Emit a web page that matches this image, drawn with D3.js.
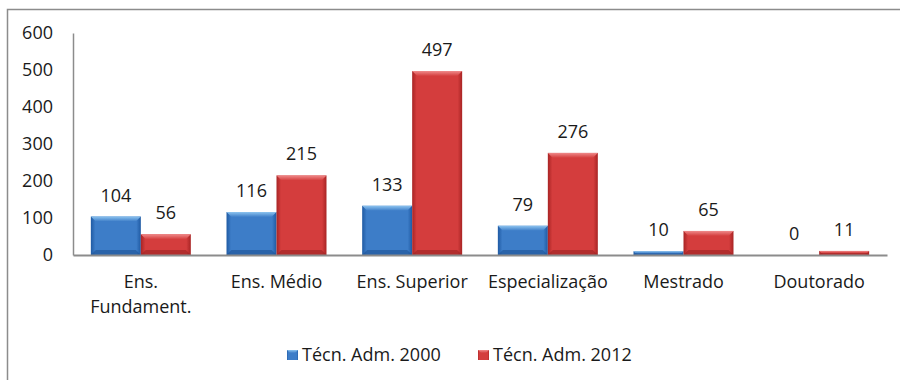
<!DOCTYPE html>
<html>
<head>
<meta charset="utf-8">
<script src="https://cdn.jsdelivr.net/npm/d3@7"></script>
<style>
  html, body { margin: 0; padding: 0; background: #fff; }
  svg { display: block; font-family: "Open Sans", sans-serif; }
</style>
</head>
<body>
<svg id="chart" width="900" height="380"></svg>
<script>
// Staff counts by education level, 2000 vs 2012
const categories = ["Ens.\nFundament.", "Ens. Médio", "Ens. Superior", "Especialização", "Mestrado", "Doutorado"];
const values2000 = [104, 116, 133, 79, 10, 0];
const values2012 = [56, 215, 497, 276, 65, 11];
const seriesNames = ["Técn. Adm. 2000", "Técn. Adm. 2012"];
const yTicks = [0, 100, 200, 300, 400, 500, 600];

const FONT = 18;
const TEXT = "#1a1a1a";
const svg = d3.select("#chart");
const margin = { left: 73, right: 13, top: 33, bottom: 125 };
const W = 900, H = 380;

// outer frame (open on the right)
svg.append("path")
  .attr("d", `M900,9.5 H7.5 V380`)
  .attr("fill", "none").attr("stroke", "#8c8c8c").attr("stroke-width", 1.5);

const x = d3.scaleBand().domain(categories).range([margin.left, W - margin.right]).paddingInner(0).paddingOuter(0);
const xs = d3.scaleBand().domain([0, 1]).range([0, x.bandwidth()]).paddingInner(0).paddingOuter(0.357);
const y = d3.scaleLinear().domain([0, 600]).range([H - margin.bottom, margin.top]);

// gradients for bevelled bars
const defs = svg.append("defs");
const palettes = [
  { id: "blue", edge: "#1f5aa3", mid: "#3d7dc8", light: "#8cc3ef", dark: "#1c4f8f" },
  { id: "red", edge: "#a82424", mid: "#d43d3d", light: "#ef8a8a", dark: "#952020" }
];
palettes.forEach(p => {
  const h = defs.append("linearGradient").attr("id", "h-" + p.id).attr("x1", 0).attr("x2", 1).attr("y1", 0).attr("y2", 0);
  h.append("stop").attr("offset", "0%").attr("stop-color", p.edge);
  h.append("stop").attr("offset", "9%").attr("stop-color", p.mid);
  h.append("stop").attr("offset", "91%").attr("stop-color", p.mid);
  h.append("stop").attr("offset", "100%").attr("stop-color", p.edge);
  const t = defs.append("linearGradient").attr("id", "t-" + p.id).attr("x1", 0).attr("x2", 0).attr("y1", 0).attr("y2", 1);
  t.append("stop").attr("offset", "0%").attr("stop-color", p.light);
  t.append("stop").attr("offset", "100%").attr("stop-color", p.mid);
});

// y axis
const yAxis = d3.axisLeft(y).tickValues(yTicks).tickSize(0).tickPadding(20);
const gy = svg.append("g").attr("transform", `translate(${margin.left},0)`).call(yAxis);
gy.select(".domain").attr("stroke", "#8c8c8c").attr("stroke-width", 1.5);
gy.selectAll("text").attr("font-size", FONT).attr("fill", TEXT).attr("font-family", "'Open Sans', sans-serif");

// bars
const series = [values2000, values2012];
const groups = svg.append("g");
categories.forEach((c, i) => {
  series.forEach((vals, s) => {
    const v = vals[i];
    const p = palettes[s];
    const bx = x(c) + xs(s), bw = xs.bandwidth();
    const by = y(v), bh = y(0) - y(v);
    if (bh > 0) {
      groups.append("rect").attr("x", bx).attr("y", by).attr("width", bw).attr("height", bh)
        .attr("fill", `url(#h-${p.id})`);
      const bev = Math.min(5, bh / 2);
      // top bevel
      groups.append("path")
        .attr("d", `M${bx},${by} H${bx + bw} L${bx + bw - bev},${by + bev} H${bx + bev} Z`)
        .attr("fill", `url(#t-${p.id})`);
      // bottom bevel
      groups.append("path")
        .attr("d", `M${bx},${by + bh} H${bx + bw} L${bx + bw - bev},${by + bh - bev} H${bx + bev} Z`)
        .attr("fill", p.dark).attr("opacity", 0.55);
    }
    // value label
    svg.append("text")
      .attr("x", bx + bw / 2).attr("y", by - 15)
      .attr("text-anchor", "middle").attr("font-size", FONT).attr("fill", TEXT)
      .text(v);
  });
});

// x axis
const xAxis = d3.axisBottom(x).tickSize(0).tickFormat("");
const gx = svg.append("g").attr("transform", `translate(0,${y(0)})`).call(xAxis);
gx.select(".domain").attr("stroke", "#8c8c8c").attr("stroke-width", 2);

// category labels (multi-line)
categories.forEach(c => {
  const lines = c.split("\n");
  const t = svg.append("text").attr("text-anchor", "middle").attr("font-size", FONT).attr("fill", TEXT);
  lines.forEach((l, k) => {
    t.append("tspan").attr("x", x(c) + x.bandwidth() / 2).attr("y", y(0) + 33 + k * 25).text(l);
  });
});

// legend
const legend = svg.append("g");
const legendX = [287, 478];
seriesNames.forEach((n, s) => {
  const p = palettes[s];
  legend.append("rect").attr("x", legendX[s]).attr("y", 350).attr("width", 11).attr("height", 10)
    .attr("fill", `url(#h-${p.id})`);
  legend.append("path")
    .attr("d", `M${legendX[s]},350 h11 l-3,3 h-5 z`).attr("fill", `url(#t-${p.id})`);
  legend.append("text").attr("x", legendX[s] + 15).attr("y", 360.5)
    .attr("font-size", FONT).attr("fill", TEXT).text(n);
});
</script>
</body>
</html>
